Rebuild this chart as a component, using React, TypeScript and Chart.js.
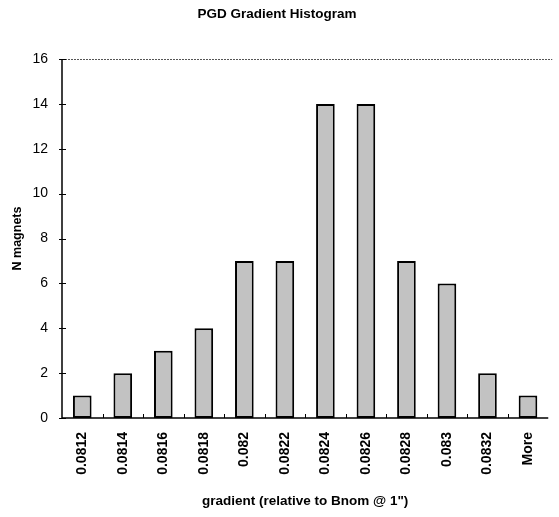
import React, { useEffect, useRef } from "react";
import { Chart, registerables } from "chart.js";

Chart.register(...registerables);

const categories = ["0.0812", "0.0814", "0.0816", "0.0818", "0.082", "0.0822", "0.0824", "0.0826", "0.0828", "0.083", "0.0832", "More"];
const counts = [1, 2, 3, 4, 7, 7, 14, 14, 7, 6, 2, 1];
const yTicks = [0, 2, 4, 6, 8, 10, 12, 14, 16];
const chartTitle = "PGD Gradient Histogram";
const xTitle = 'gradient (relative to Bnom @ 1")';
const yTitle = "N magnets";

const FONT = "'Liberation Sans', Arial, sans-serif";
const NARROW = "'Liberation Sans Narrow', 'Arial Narrow', 'Liberation Sans', sans-serif";

const axisDecor = {
  id: "axisDecor",
  afterDatasetsDraw(chart: any) {
    const { ctx, chartArea, scales } = chart;
    const { left, right, top, bottom } = chartArea;
    ctx.save();
    ctx.strokeStyle = "#555";
    ctx.lineWidth = 1;
    ctx.setLineDash([2, 1]);
    ctx.beginPath();
    ctx.moveTo(left, top + 0.5);
    ctx.lineTo(right + 4, top + 0.5);
    ctx.stroke();
    ctx.setLineDash([]);
    ctx.strokeStyle = "#000";
    ctx.lineWidth = 1.5;
    ctx.beginPath();
    ctx.moveTo(left, top);
    ctx.lineTo(left, bottom);
    ctx.lineTo(right, bottom);
    ctx.stroke();
    ctx.lineWidth = 1;
    const ys = scales.y;
    yTicks.forEach((v) => {
      const py = Math.round(ys.getPixelForValue(v)) + 0.5;
      ctx.beginPath();
      ctx.moveTo(left - 3, py);
      ctx.lineTo(left + 4, py);
      ctx.stroke();
    });
    const xs = scales.x;
    for (let i = 1; i < categories.length; i++) {
      const px = Math.round((xs.getPixelForValue(i - 1) + xs.getPixelForValue(i)) / 2) + 0.5;
      ctx.beginPath();
      ctx.moveTo(px, bottom);
      ctx.lineTo(px, bottom - 4);
      ctx.stroke();
    }
    ctx.restore();
  },
};

export default function App() {
  const ref = useRef<HTMLCanvasElement | null>(null);
  useEffect(() => {
    document.body.style.margin = "0";
    const canvas = ref.current;
    if (!canvas) return;
    const chart = new Chart(canvas, {
      type: "bar",
      data: {
        labels: categories,
        datasets: [
          {
            data: counts,
            backgroundColor: "#c2c2c2",
            borderColor: "#000",
            borderWidth: 2,
            borderSkipped: false,
            barPercentage: 0.46,
            categoryPercentage: 1,
          },
        ],
      },
      options: {
        animation: false,
        responsive: false,
        layout: { padding: { left: 0, right: 5, top: 0, bottom: 0 } },
        plugins: {
          legend: { display: false },
          tooltip: { enabled: false },
          title: {
            display: true,
            text: chartTitle,
            color: "#000",
            font: { family: FONT, size: 13.5, weight: "bold", lineHeight: 1.2 },
            padding: { top: 6, bottom: 36.8 },
          },
        },
        scales: {
          x: {
            grid: { display: false, drawTicks: false },
            border: { display: false },
            ticks: {
              color: "#000",
              font: { family: FONT, size: 14, weight: "bold" },
              minRotation: 90,
              maxRotation: 90,
              padding: 14,
              autoSkip: false,
            },
            title: {
              display: true,
              text: xTitle,
              color: "#000",
              font: { family: FONT, size: 13.5, weight: "bold", lineHeight: 1.2 },
              padding: { top: 0, bottom: 8 },
            },
            afterFit(scale: any) {
              scale.height = 99;
            },
          },
          y: {
            min: 0,
            max: 16,
            grid: { display: false, drawTicks: false },
            border: { display: false },
            ticks: {
              stepSize: 2,
              color: "#000",
              font: { family: NARROW, size: 14 },
              padding: 14,
            },
            title: {
              display: true,
              text: yTitle,
              color: "#000",
              font: { family: FONT, size: 12.5, weight: "bold", lineHeight: 1.2 },
              padding: { top: 10, bottom: 0 },
            },
            afterFit(scale: any) {
              scale.width = 62;
            },
          },
        },
      },
      plugins: [axisDecor],
    });
    return () => chart.destroy();
  }, []);
  return <canvas ref={ref} width={559} height={517} style={{ display: "block" }} />;
}
